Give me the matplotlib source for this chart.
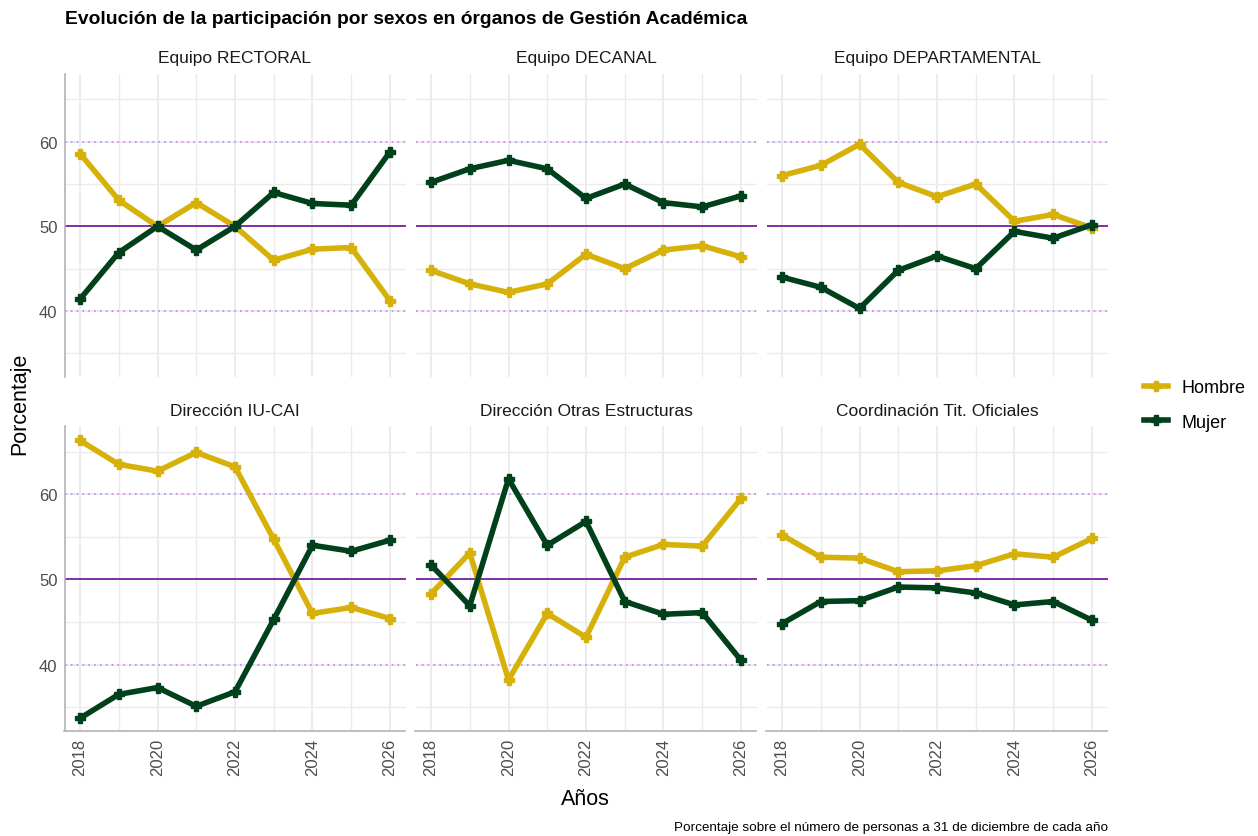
import matplotlib
matplotlib.use("Agg")
import matplotlib.pyplot as plt
from matplotlib.lines import Line2D

plt.rcParams['font.family'] = ['Liberation Sans', 'DejaVu Sans']

years = [2018, 2019, 2020, 2021, 2022, 2023, 2024, 2025, 2026]
panels = ["Equipo RECTORAL", "Equipo DECANAL", "Equipo DEPARTAMENTAL",
          "Dirección IU-CAI", "Dirección Otras Estructuras", "Coordinación Tit. Oficiales"]

hombre_rectoral = [58.6, 53.1, 50.0, 52.8, 50.0, 46.0, 47.3, 47.5, 41.2]
mujer_rectoral = [41.4, 46.9, 50.0, 47.2, 50.0, 54.0, 52.7, 52.5, 58.8]
hombre_decanal = [44.8, 43.2, 42.2, 43.2, 46.7, 45.0, 47.2, 47.7, 46.4]
mujer_decanal = [55.2, 56.8, 57.8, 56.8, 53.3, 55.0, 52.8, 52.3, 53.6]
hombre_departamental = [56.0, 57.2, 59.7, 55.2, 53.5, 55.0, 50.6, 51.4, 49.8]
mujer_departamental = [44.0, 42.8, 40.3, 44.8, 46.5, 45.0, 49.4, 48.6, 50.2]
hombre_iucai = [66.3, 63.5, 62.7, 64.9, 63.2, 54.7, 46.0, 46.7, 45.4]
mujer_iucai = [33.7, 36.5, 37.3, 35.1, 36.8, 45.3, 54.0, 53.3, 54.6]
hombre_otras = [48.3, 53.1, 38.2, 46.0, 43.2, 52.6, 54.1, 53.9, 59.5]
mujer_otras = [51.7, 46.9, 61.8, 54.0, 56.8, 47.4, 45.9, 46.1, 40.5]
hombre_coord = [55.2, 52.6, 52.5, 50.9, 51.0, 51.6, 53.0, 52.6, 54.8]
mujer_coord = [44.8, 47.4, 47.5, 49.1, 49.0, 48.4, 47.0, 47.4, 45.2]

hombres = [hombre_rectoral, hombre_decanal, hombre_departamental,
           hombre_iucai, hombre_otras, hombre_coord]
mujeres = [mujer_rectoral, mujer_decanal, mujer_departamental,
           mujer_iucai, mujer_otras, mujer_coord]

C_H = "#D6B10A"
C_M = "#00411C"
GRID = "#EBEBEB"
LW = 4.0
MS = 7.5
MK = "P"

W, H = 1258, 837
fig = plt.figure(figsize=(W / 100, H / 100), dpi=100)

col_x = [64.5, 415.5, 766.5]
col_w = 341
row_y = [(75, 378), (427, 732)]

ymin, ymax = 32.2, 68.0
xmin, xmax = 2017.6, 2026.4

for i, name in enumerate(panels):
    r, c = divmod(i, 3)
    top, bot = row_y[r]
    ax = fig.add_axes([col_x[c] / W, 1 - bot / H, col_w / W, (bot - top) / H])
    ax.set_xlim(xmin, xmax)
    ax.set_ylim(ymin, ymax)
    for s in ax.spines.values():
        s.set_visible(False)
    # grid
    for yv in [35, 45, 55, 65]:
        ax.axhline(yv, color=GRID, lw=1.0, zorder=0)
    for yv in [40, 50, 60]:
        ax.axhline(yv, color=GRID, lw=1.3, zorder=0)
    for xv in years:
        ax.axvline(xv, color=GRID, lw=1.3 if xv % 2 == 0 else 1.0, zorder=0)
    ax.axhline(50, color="#7A1FA2", lw=1.3, zorder=1)
    ax.axhline(60, color="#C77DFF", lw=1.2, ls=(0, (1, 2.5)), zorder=1)
    ax.axhline(40, color="#C77DFF", lw=1.2, ls=(0, (1, 2.5)), zorder=1)
    ax.plot(years, hombres[i], color=C_H, lw=LW, marker=MK, ms=MS, zorder=3,
            solid_joinstyle="round", solid_capstyle="round")
    ax.plot(years, mujeres[i], color=C_M, lw=LW, marker=MK, ms=MS, zorder=4,
            solid_joinstyle="round", solid_capstyle="round")
    ax.set_xticks([2018, 2020, 2022, 2024, 2026])
    ax.set_yticks([40, 50, 60])
    ax.tick_params(length=0, colors="#4D4D4D", labelsize=12, pad=5)
    if c == 0:
        ax.spines['left'].set_visible(True)
        ax.spines['left'].set_color("#B3B3B3")
        ax.spines['left'].set_linewidth(1.2)
    else:
        ax.set_yticklabels([])
    if r == 1:
        ax.spines['bottom'].set_visible(True)
        ax.spines['bottom'].set_color("#B3B3B3")
        ax.spines['bottom'].set_linewidth(1.2)
        ax.set_xticklabels([str(v) for v in [2018, 2020, 2022, 2024, 2026]], rotation=90)
    else:
        ax.set_xticklabels([])
    fig.text((col_x[c] + col_w / 2) / W, 1 - (top - 16) / H, name, ha="center",
             va="center", fontsize=12.5, color="#1A1A1A")

fig.text(65 / W, 1 - 20 / H, "Evolución de la participación por sexos en órganos de Gestión Académica",
         ha="left", va="center", fontsize=13.9, fontweight="bold", color="black")
fig.text(20 / W, 1 - 404 / H, "Porcentaje", rotation=90, ha="center", va="center",
         fontsize=15.5, color="black")
fig.text(585 / W, 1 - 800 / H, "Años", ha="center", va="center", fontsize=15.5, color="black")
fig.text(1108 / W, 1 - 828 / H, "Porcentaje sobre el número de personas a 31 de diciembre de cada año",
         ha="right", va="center", fontsize=9.7, color="black")

handles = [Line2D([0], [0], color=C_H, lw=LW, marker=MK, ms=MS),
           Line2D([0], [0], color=C_M, lw=LW, marker=MK, ms=MS)]
fig.legend(handles, ["Hombre", "Mujer"], loc="center left",
           bbox_to_anchor=(1128 / W, 1 - 406 / H), frameon=False, fontsize=13,
           handlelength=1.3, labelspacing=0.95, handletextpad=0.75)

fig.savefig("out.png", dpi=100)
